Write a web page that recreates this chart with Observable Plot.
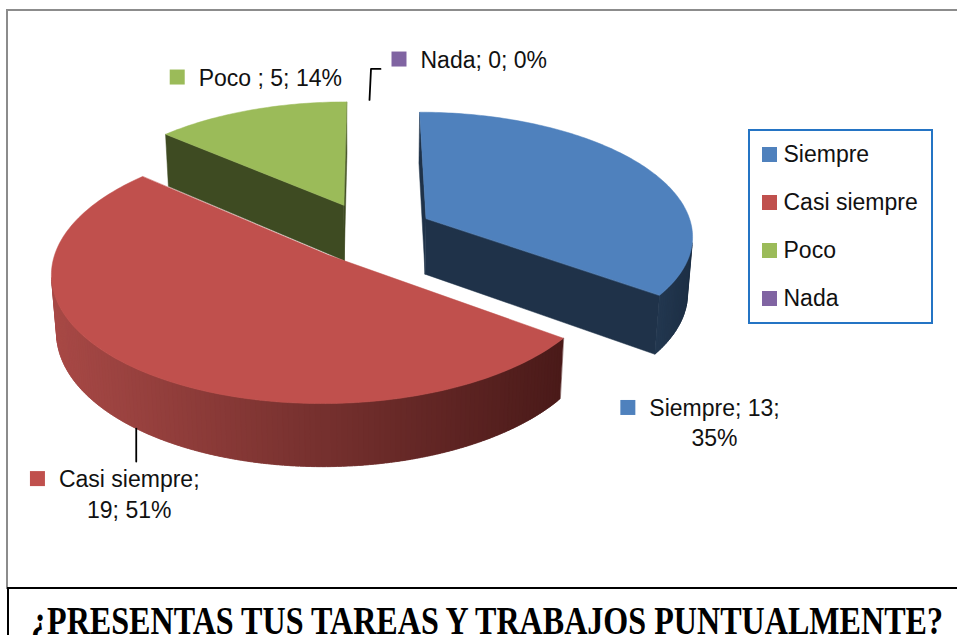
<!DOCTYPE html>
<html><head><meta charset="utf-8">
<script src="https://cdn.jsdelivr.net/npm/d3@7"></script>
<script src="https://cdn.jsdelivr.net/npm/@observablehq/plot@0.6"></script>
<style>
html,body{margin:0;padding:0;background:#fff;width:957px;height:635px;overflow:hidden;position:relative;font-family:"Liberation Sans",Arial,sans-serif}
#box{position:absolute;left:6px;top:9px;width:1000px;height:580px;border:2.5px solid #8c8c8c;box-sizing:border-box}
#chart{position:absolute;left:0;top:0}
#legend{position:absolute;left:748px;top:129px;width:185px;height:195px;border:2.5px solid #2474c4;box-sizing:border-box}
.item{position:absolute;left:11.5px;height:26px;display:flex;align-items:center;font-size:23px;color:#111;white-space:nowrap}
.sw{width:15px;height:15px;margin-right:7px;flex:none}
#titlebox{position:absolute;left:7px;top:587px;width:1000px;height:70px;border:2.5px solid #000;box-sizing:border-box}
#title{position:absolute;left:0;top:586px}
</style></head><body>
<div id="box"></div>
<div id="chart"></div>
<div id="legend"></div>
<div id="titlebox"></div>
<svg id="title" width="957" height="49"><text x="31" y="47.5" textLength="912" lengthAdjust="spacingAndGlyphs" font-family="'Liberation Serif','Times New Roman',serif" font-weight="bold" font-size="40" fill="#000">¿PRESENTAS TUS TAREAS Y TRABAJOS PUNTUALMENTE?</text></svg>
<script>
// ---- data ----
const categories = ["Siempre", "Casi siempre", "Poco", "Nada"];
const values = [13, 19, 5, 0];
const labelLines = [["Siempre; 13;", "35%"], ["Casi siempre;", "19; 51%"], ["Poco ; 5; 14%"], ["Nada; 0; 0%"]];
const titleText = "¿PRESENTAS TUS TAREAS Y TRABAJOS PUNTUALMENTE?";

// ---- styles ----
const topColors = ["#4f81bd", "#c0504d", "#9bbb59", "#8064a2"];
const sideColors = ["#1f3249", "#4a1b1a", "#3e4b22", "#4b3a63"];
const rimLight = ["#22374f", "#a84946", "#3e4b22", "#4b3a63"];
const rimDark = ["#1d2f45", "#4a1a19", "#3e4b22", "#4b3a63"];
const FONT = "'Liberation Sans', Arial, sans-serif";
const FS = 23;

// ---- 3D view ----
const phi = 28 * Math.PI / 180, D = 7, H = 0.23, EXPLODE = 0.24;
const W = 957, HT = 586, PXx = 263, PXy = 273, CX = 369, CY = 231;
const sinP = Math.sin(phi), cosP = Math.cos(phi);
function proj(X, Y, Z) {
  const d = D + Z * cosP - Y * sinP;
  return {u: X * D / d, v: (Y * cosP + Z * sinP) * D / d};
}
const v0 = proj(0, H, 0).v;
const cam = [0, D * sinP, -D * cosP];

const arcs = d3.pie().sort(null).value(d => d)(values);

const faces = [];
const slices = arcs.map((a, i) => {
  const m = (a.startAngle + a.endAngle) / 2;
  return {i, a0: a.startAngle, a1: a.endAngle, m, ox: EXPLODE * Math.sin(m), oz: EXPLODE * Math.cos(m)};
});
function P(s, th, r, Y) { return [s.ox + r * Math.sin(th), Y, s.oz + r * Math.cos(th)]; }
function visible(n, p) {
  return n[0] * (cam[0] - p[0]) + n[1] * (cam[1] - p[1]) + n[2] * (cam[2] - p[2]) > 0;
}
function dist(p) { return Math.hypot(cam[0] - p[0], cam[1] - p[1], cam[2] - p[2]); }

// draw order: far slices first
const order = slices.filter(s => s.a1 - s.a0 > 1e-9)
  .sort((a, b) => dist([b.ox, H / 2, b.oz]) - dist([a.ox, H / 2, a.oz]));

let fid = 0;
for (const s of order) {
  const side = [];
  // radial faces
  for (const [ang, nAng] of [[s.a0, s.a0 - Math.PI / 2], [s.a1, s.a1 + Math.PI / 2]]) {
    const n = [Math.sin(nAng), 0, Math.cos(nAng)];
    const c = P(s, ang, 0.5, H / 2);
    if (visible(n, c)) side.push({pts: [P(s, 0, 0, H), P(s, ang, 1, H), P(s, ang, 1, 0), P(s, 0, 0, 0)], color: sideColors[s.i], depth: dist(c), radial: true});
  }
  // rim (thin overlapping segments for a smooth shade)
  const step = Math.PI / 180;
  const nSeg = Math.max(1, Math.ceil((s.a1 - s.a0) / step));
  const dt = (s.a1 - s.a0) / nSeg;
  const rimSegs = [];
  for (let k = 0; k < nSeg; k++) {
    const t1 = s.a0 + dt * k, t2 = Math.min(s.a1, t1 + dt * 1.8), tm = t1 + dt / 2;
    const n = [Math.sin(tm), 0, Math.cos(tm)];
    const c = P(s, tm, 1, H / 2);
    if (visible(n, c)) rimSegs.push({pts: [P(s, t1, 1, H), P(s, t2, 1, H), P(s, t2, 1, 0), P(s, t1, 1, 0)], uc: proj(...c).u, depth: dist(c)});
  }
  if (rimSegs.length) {
    const [umin, umax] = d3.extent(rimSegs, r => r.uc);
    const interp = d3.interpolateRgb(rimLight[s.i], rimDark[s.i]);
    for (const r of rimSegs) { r.color = interp(umax > umin ? (r.uc - umin) / (umax - umin) : 0); side.push(r); }
  }
  side.sort((a, b) => b.depth - a.depth);
  for (const f of side) faces.push({id: fid++, color: f.color, pts: f.pts, sw: f.radial ? 0.8 : 0.3});
  // top face
  const topPts = [P(s, 0, 0, H)];
  for (let k = 0; k <= nSeg; k++) topPts.push(P(s, s.a0 + dt * k, 1, H));
  faces.push({id: fid++, color: topColors[s.i], pts: topPts, sw: 0.8});
}
const faceRows = faces.flatMap(f => f.pts.map(p => ({id: f.id, color: f.color, ...proj(...p)})));

// ---- data labels (anchor on slice edge at mid-angle + layout offsets in px) ----
const labelLayout = [
  {Y: 0, dx: 73, dy: 195, leader: null},
  {Y: 0, dx: -7, dy: 58.5, leader: [[0, 0], [0, 33]]},
  {Y: H, dx: 20, dy: -24.6, leader: null},
  {Y: H, dx: null, dy: -32.4, leader: [[0, 0], [1.5, -31], [11, -31]]}
];
const LINE = 30.5;
const ctx = document.createElement("canvas").getContext("2d");
ctx.font = `${FS}px ${FONT}`;
const textRows = [], markerRows = [], leaderRows = [];
slices.forEach((s, i) => {
  const L = labelLayout[i];
  const a = proj(...P(s, s.m, 1, L.Y));
  const ax = CX + a.u * PXx, ay = CY - (a.v - v0) * PXy;
  const toU = px => (px - CX) / PXx, toV = py => v0 - (py - CY) / PXy;
  const lines = labelLines[i];
  const w1 = ctx.measureText(lines[0]).width;
  const cx = L.dx == null ? ax + 51 + w1 / 2 : ax + L.dx;
  const by = ay + L.dy;
  lines.forEach((t, k) => textRows.push({u: toU(cx), v: toV(by + k * LINE), text: t}));
  markerRows.push({u: toU(cx - w1 / 2 - 14 - 7.5), v: toV(by - 8.5), color: topColors[i]});
  if (L.leader) L.leader.forEach(([dx, dy]) => leaderRows.push({id: i, u: toU(ax + dx), v: toV(ay + dy)}));
});

const chart = Plot.plot({
  width: W, height: HT,
  margin: 0,
  x: {domain: [(0 - CX) / PXx, (W - CX) / PXx], range: [0, W], axis: null},
  y: {domain: [v0 - (HT - CY) / PXy, v0 + CY / PXy], range: [HT, 0], axis: null},
  color: {type: "identity"},
  style: {background: "transparent", overflow: "visible"},
  marks: [
    Plot.line(faceRows, {x: "u", y: "v", z: "id", fill: "color", stroke: "color", strokeWidth: 0.5, strokeLinejoin: "round", curve: "linear-closed"}),
    Plot.line(leaderRows, {x: "u", y: "v", z: "id", stroke: "#000", strokeWidth: 1.8}),
    Plot.dot(markerRows, {x: "u", y: "v", fill: "color", symbol: "square", r: 15 / Math.sqrt(Math.PI), stroke: null}),
    Plot.text(textRows, {x: "u", y: "v", text: "text", textAnchor: "middle", lineAnchor: "bottom", fontSize: FS, fontFamily: FONT, fill: "#111"})
  ]
});
document.getElementById("chart").append(chart);

// ---- legend ----
const legend = document.getElementById("legend");
categories.forEach((c, i) => {
  const it = document.createElement("div");
  it.className = "item";
  it.style.top = (10 + i * 48.3) + "px";
  const sw = document.createElement("span");
  sw.className = "sw"; sw.style.background = topColors[i];
  it.append(sw, document.createTextNode(c));
  legend.append(it);
});
document.querySelector("#title text").textContent = titleText;
</script>
</body></html>
